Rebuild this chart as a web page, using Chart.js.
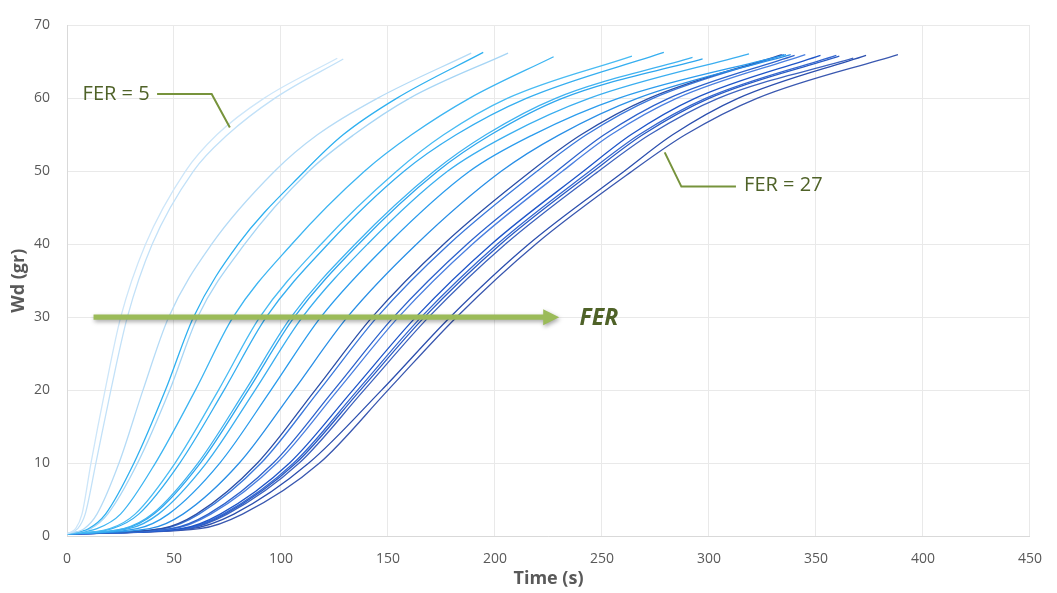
<!DOCTYPE html>
<html>
<head>
<meta charset="utf-8">
<title>Wd vs time for FER 5 to 27</title>
<script src="https://cdn.jsdelivr.net/npm/chart.js@4.4.1/dist/chart.umd.min.js"></script>
<style>
  html, body { margin: 0; padding: 0; background: #fff; }
  #wrap { width: 1057px; height: 593px; position: relative; }
</style>
</head>
<body>
<div id="wrap"><canvas id="growthChart"></canvas></div>
<script>
// one curve per FER value
const ferValues = [5, 6, 7, 8, 9, 10, 11, 12, 13, 14, 15, 16, 17, 18, 19, 20, 21, 22, 23, 24, 25, 26, 27];

// every curve starts at this Wd at t = 0
const wdStart = 0.3;

// Wd levels (gr) and the time (s) at which each curve reaches them
const wdLevels = [1, 3, 10, 20, 30, 40, 50, 55, 60];
const tWd1  = [4, 5, 8, 10, 11, 14, 20, 21.1, 26.4, 27.1, 28.9, 32.8, 38.6, 43.9, 44.9, 48.5, 49.6, 53.3, 54.4, 55.1, 56, 58, 62];
const tWd3  = [7, 8.5, 14, 18, 19, 25, 31.8, 33.5, 39.8, 40.6, 42.7, 47.4, 54.2, 60.5, 61.7, 66, 67.2, 71.6, 73, 73.8, 74.9, 78, 82];
const tWd10 = [11.2, 13.5, 24.3, 31.3, 33, 41.3, 50.5, 52.7, 61.2, 62.3, 65.1, 71.4, 80.5, 89, 90.7, 96.4, 98.1, 104, 105.9, 107, 108.5, 113, 118];
const tWd20 = [17.8, 20.5, 35.5, 46, 48, 60, 70.8, 73.4, 83.4, 84.7, 87.9, 95.3, 106, 116, 118, 124.7, 126.6, 133.6, 135.8, 137.1, 138.8, 147, 150];
const tWd30 = [25.1, 28.2, 47.5, 59.1, 61, 77.6, 90.1, 93.1, 104.7, 106.2, 110, 118.6, 131, 142.6, 144.9, 152.6, 154.9, 163, 165.5, 167, 169, 179, 182];
const tWd40 = [36.7, 39.8, 67.6, 80, 83, 105, 118.7, 121.9, 134.6, 136.2, 140.4, 149.8, 163.3, 176, 178.5, 186.9, 189.4, 198.3, 201, 202.6, 204.8, 215.7, 219];
const tWd50 = [55.3, 59, 97, 111, 113, 139, 154, 157.5, 171.5, 173.2, 177.8, 188.1, 202.9, 216.8, 219.6, 228.8, 231.5, 241.3, 244.2, 246, 248.4, 260.4, 264];
const tWd55 = [70, 75, 117, 129, 134, 161, 176, 181.8, 195.7, 198, 206, 217.7, 230, 240.2, 242.7, 251, 254.2, 263.5, 267.3, 269, 272.2, 283, 288.9];
const tWd60 = [92, 97, 145, 154, 160, 188, 205.7, 214.6, 228.3, 231.4, 244, 257.6, 266.5, 271.9, 273.8, 281.1, 284.8, 293.4, 298.4, 300, 304.3, 313.5, 322.4];

// last point of each curve
const tEnd  = [126.3, 129.1, 188.9, 194.5, 206.1, 227.4, 264, 278.9, 292.3, 297, 318.7, 336, 338.2, 334, 335, 340, 345, 352.1, 359.5, 360.9, 367.4, 373.4, 388.3];
const wdEnd = [65.5, 65.4, 66.2, 66.3, 66.2, 65.7, 65.8, 66.3, 65.6, 65.4, 66.1, 66.0, 66.0, 66.0, 66.0, 65.9, 66.0, 65.9, 65.9, 65.8, 65.5, 65.9, 66.0];

const xTicks = [0, 50, 100, 150, 200, 250, 300, 350, 400, 450];
const yTicks = [0, 10, 20, 30, 40, 50, 60, 70];

// pale blue for low FER through to dark blue for high FER
const lineColors = [
  '#cde6f9', '#c2e1f8', '#b5dbf6', '#2fb0f0', '#a6d5f5', '#3db5f2', '#48bbf3', '#35aef0',
  '#3fb2f1', '#2ea6ee', '#3aaef0', '#2b9ced', '#2a8fe6', '#2b4fa8', '#3a78dc', '#2d62cc',
  '#4a7fe0', '#1f55c8', '#3567cf', '#2a5bc4', '#3d63bf', '#2c4fae', '#3a58b0'
];

const levelTimes = [tWd1, tWd3, tWd10, tWd20, tWd30, tWd40, tWd50, tWd55, tWd60];

const datasets = ferValues.map((fer, i) => {
  const pts = [{ x: 0, y: wdStart }];
  wdLevels.forEach((w, k) => pts.push({ x: levelTimes[k][i], y: w }));
  pts.push({ x: tEnd[i], y: wdEnd[i] });
  return {
    label: 'FER = ' + fer,
    data: pts,
    borderColor: lineColors[i],
    borderWidth: 1.3,
    pointRadius: 0,
    fill: false,
    cubicInterpolationMode: 'monotone'
  };
});

// callouts, in axis units
const fer5Label = { text: 'FER = 5', x: 7.3, y: 60.5 };
const fer5Leader = [[42.1, 60.6], [67.6, 60.6], [76.1, 56.0]];
const fer27Label = { text: 'FER = 27', x: 316.4, y: 48.1 };
const fer27Leader = [[312.6, 47.9], [287.1, 47.9], [279.3, 52.6]];
const ferArrow = { from: 12.4, to: 230, y: 30, text: 'FER', textX: 239.5, textY: 29.85 };

const calloutPlugin = {
  id: 'callouts',
  afterDatasetsDraw(chart) {
    const { ctx, scales: { x, y } } = chart;
    const px = v => x.getPixelForValue(v);
    const py = v => y.getPixelForValue(v);
    ctx.save();

    ctx.strokeStyle = '#77933c';
    ctx.lineWidth = 2;
    [fer5Leader, fer27Leader].forEach(line => {
      ctx.beginPath();
      line.forEach(([a, b], k) => k ? ctx.lineTo(px(a), py(b)) : ctx.moveTo(px(a), py(b)));
      ctx.stroke();
    });

    ctx.fillStyle = '#4f6228';
    ctx.font = '20px "Open Sans"';
    ctx.textAlign = 'left';
    ctx.textBaseline = 'middle';
    ctx.fillText(fer5Label.text, px(fer5Label.x), py(fer5Label.y));
    ctx.fillText(fer27Label.text, px(fer27Label.x), py(fer27Label.y));

    // big arrow along Wd = 30
    const ya = py(ferArrow.y), x0 = px(ferArrow.from), x1 = px(ferArrow.to);
    ctx.shadowColor = 'rgba(0,0,0,0.35)';
    ctx.shadowBlur = 4;
    ctx.shadowOffsetX = 1;
    ctx.shadowOffsetY = 2;
    ctx.fillStyle = '#9bbb59';
    ctx.beginPath();
    ctx.moveTo(x0, ya - 2.7);
    ctx.lineTo(x1 - 16, ya - 2.7);
    ctx.lineTo(x1 - 16, ya - 8);
    ctx.lineTo(x1, ya);
    ctx.lineTo(x1 - 16, ya + 8);
    ctx.lineTo(x1 - 16, ya + 2.7);
    ctx.lineTo(x0, ya + 2.7);
    ctx.closePath();
    ctx.fill();
    ctx.shadowColor = 'transparent';

    ctx.fillStyle = '#4f6228';
    ctx.font = 'italic bold 23px "Open Sans"';
    ctx.fillText(ferArrow.text, px(ferArrow.textX), py(ferArrow.textY));
    ctx.restore();
  }
};

const tickFont = { family: '"Open Sans", sans-serif', size: 14 };
const titleFont = { family: '"Open Sans", sans-serif', size: 18, weight: 'bold' };

new Chart(document.getElementById('growthChart'), {
  type: 'line',
  data: { datasets: datasets },
  options: {
    responsive: true,
    maintainAspectRatio: false,
    animation: false,
    layout: { padding: { top: 20, right: 19, left: 0, bottom: 0 } },
    plugins: { legend: { display: false }, tooltip: { enabled: false } },
    scales: {
      x: {
        type: 'linear',
        min: 0,
        max: 450,
        afterBuildTicks: s => { s.ticks = xTicks.map(v => ({ value: v })); },
        afterFit: s => { s.height = 57; },
        ticks: { color: '#595959', font: tickFont, padding: 15 },
        grid: { color: '#e9e9e9', drawTicks: false },
        border: { color: '#d9d9d9' },
        title: { display: true, text: 'Time (s)', color: '#595959', font: titleFont, padding: { top: 0, bottom: 3 } }
      },
      y: {
        type: 'linear',
        min: 0,
        max: 70,
        afterBuildTicks: s => { s.ticks = yTicks.map(v => ({ value: v })); },
        afterFit: s => { s.width = 67; },
        ticks: { color: '#595959', font: tickFont, padding: 17 },
        grid: { color: '#e9e9e9', drawTicks: false },
        border: { color: '#d9d9d9' },
        title: { display: true, text: 'Wd (gr)', color: '#595959', font: titleFont, padding: { top: 8, bottom: 0 } }
      }
    }
  },
  plugins: [calloutPlugin]
});
</script>
</body>
</html>
